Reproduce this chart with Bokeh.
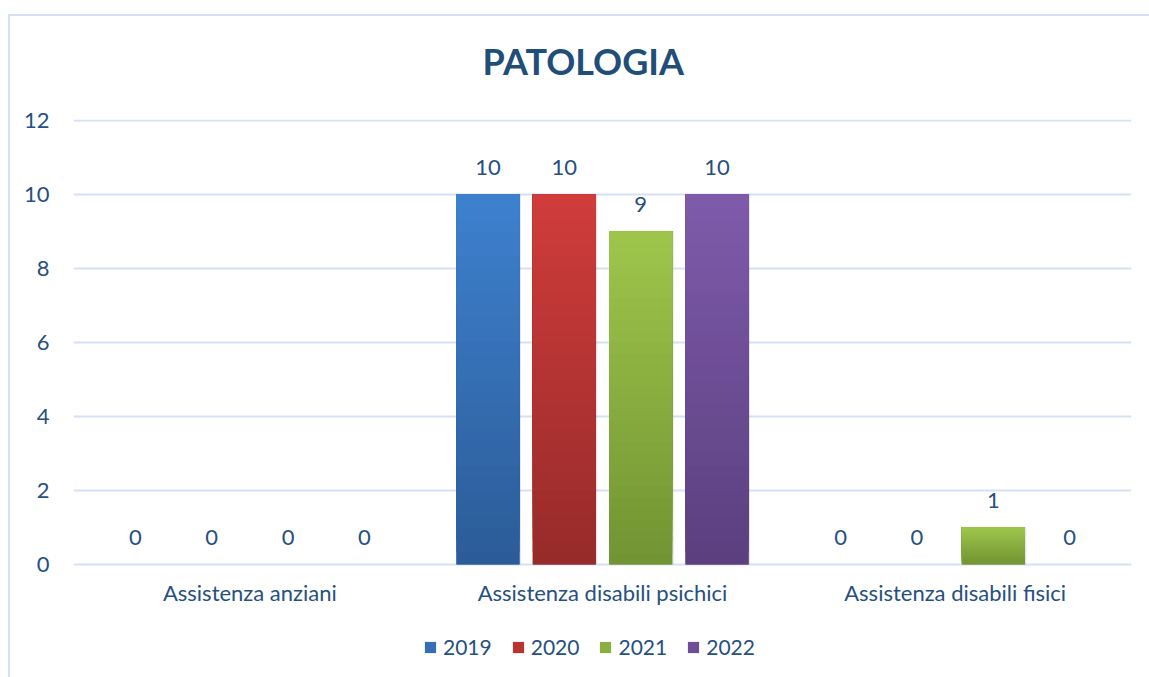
from bokeh.plotting import figure
from bokeh.models import (FactorRange, Range1d, FixedTicker, Legend, LegendItem,
                          ColumnDataSource)
from bokeh.transform import dodge
from bokeh.core.properties import value
from bokeh.embed import file_html
from bokeh.resources import INLINE

categories = ["Assistenza anziani", "Assistenza disabili psichici", "Assistenza disabili fisici"]
years = ["2019", "2020", "2021", "2022"]
v2019 = [0, 10, 0]
v2020 = [0, 10, 0]
v2021 = [0, 9, 1]
v2022 = [0, 10, 0]
series = [v2019, v2020, v2021, v2022]
y_ticks = [0, 2, 4, 6, 8, 10, 12]

top_colors = ["#3D80CE", "#CF3C3B", "#9EC54B", "#7E5BAA"]
bottom_colors = ["#2C5C98", "#972B2A", "#739433", "#5B3F7F"]
mid_colors = ["#356EB5", "#B83433", "#8BAE40", "#6D4E95"]

FONT = "Lato"
TXT = "#26507F"
FRAME = "#D6E2F3"

# chart-area outline painted behind a transparent canvas
bg = ("linear-gradient({c}, {c}) 8px 14px / 1141px 2px no-repeat, "
      "linear-gradient({c}, {c}) 8px 14px / 2px 663px no-repeat, #ffffff").format(c=FRAME)

# frame extends below the value axis so the legend can sit inside it
p = figure(x_range=FactorRange(*categories, range_padding=0),
           y_range=Range1d(-2.865, 12.03),
           width=1149, height=677, output_backend="svg", toolbar_location=None,
           min_border_left=73, min_border_right=18, min_border_top=119, min_border_bottom=7,
           background_fill_color=None, border_fill_color=None,
           styles={"background": bg})
p.outline_line_color = None

p.title.text = "PATOLOGIA"
p.title.text_font = FONT
p.title.text_font_size = "36px"
p.title.text_font_style = "bold"
p.title.text_color = "#1F4E79"
p.title.align = "left"
p.title.offset = 409
p.title.standoff = 73

p.xgrid.grid_line_color = None
p.ygrid.grid_line_color = FRAME
p.ygrid.grid_line_width = 2
p.yaxis.ticker = FixedTicker(ticks=y_ticks)
for ax in (p.xaxis, p.yaxis):
    ax.axis_line_color = None
    ax.major_tick_line_color = None
    ax.minor_tick_line_color = None
    ax.major_tick_out = 0
    ax.major_tick_in = 0
    ax.minor_tick_out = 0
    ax.major_label_text_font = FONT
    ax.major_label_text_font_size = "22px"
    ax.major_label_text_color = TXT
p.yaxis.major_label_standoff = 24
p.xaxis.major_label_standoff = 14
p.xaxis.fixed_location = 0

step = 0.2165
width = 0.179
offsets = [-1.5 * step, -0.5 * step, 0.5 * step, 1.5 * step]
N = 30

def mix(c1, c2, t):
    a = [int(c1[i:i + 2], 16) for i in (1, 3, 5)]
    b = [int(c2[i:i + 2], 16) for i in (1, 3, 5)]
    return "#%02x%02x%02x" % tuple(round(a[j] + (b[j] - a[j]) * t) for j in range(3))

legend_items = []
for si, (yr, vals) in enumerate(zip(years, series)):
    src = ColumnDataSource(dict(cat=categories, val=vals, lbl=[str(v) for v in vals]))
    xd = dodge("cat", offsets[si], range=p.x_range)
    p.vbar(x=dodge("cat", offsets[si] + 0.004, range=p.x_range), top="val", bottom=0,
           width=width, source=src, fill_color="#000000", fill_alpha=0.10, line_color=None)
    base = p.vbar(x=xd, top="val", bottom=0, width=width, source=src,
                  fill_color=mid_colors[si], line_color=None)
    legend_items.append(LegendItem(label=yr, renderers=[base]))
    xs, bots, tops, cols = [], [], [], []
    for ci, v in enumerate(vals):
        if v <= 0:
            continue
        for k in range(N):
            xs.append(categories[ci])
            bots.append(v * k / N)
            tops.append(v)
            cols.append(mix(bottom_colors[si], top_colors[si], k / (N - 1)))
    gsrc = ColumnDataSource(dict(cat=xs, bot=bots, top=tops, col=cols))
    p.vbar(x=dodge("cat", offsets[si], range=p.x_range), top="top", bottom="bot",
           width=width, source=gsrc, fill_color="col", line_color=None)
    p.text(x=xd, y="val", text="lbl", source=src, text_align="center",
           text_baseline="middle", y_offset=-27, text_font=value(FONT),
           text_font_size="22px", text_color=TXT)

legend = Legend(items=legend_items, orientation="horizontal", location=(350, 11),
                glyph_width=14, glyph_height=14, label_standoff=6, spacing=19,
                label_text_font=FONT, label_text_font_size="21px", label_text_color=TXT,
                border_line_color=None, background_fill_alpha=0, padding=0, margin=0)
p.add_layout(legend)

open("out.html", "w").write(file_html(p, INLINE))
